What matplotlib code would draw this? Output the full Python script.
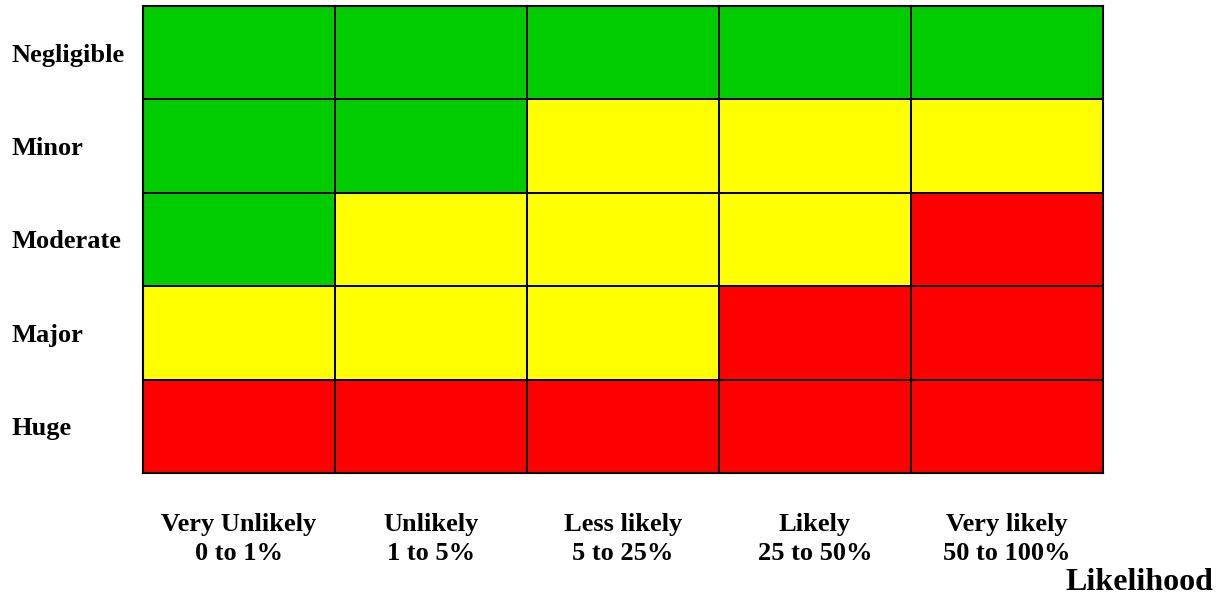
import matplotlib.pyplot as plt
from matplotlib.colors import ListedColormap
import numpy as np

# impact rows (top to bottom) and likelihood columns
impact = ['Negligible', 'Minor', 'Moderate', 'Major', 'Huge']
likelihood = ['Very Unlikely\n0 to 1%', 'Unlikely\n1 to 5%', 'Less likely\n5 to 25%',
              'Likely\n25 to 50%', 'Very likely\n50 to 100%']

# risk level per cell: 0 = low (green), 1 = medium (yellow), 2 = high (red)
risk = [
    [0, 0, 0, 0, 0],
    [0, 0, 1, 1, 1],
    [0, 1, 1, 1, 2],
    [1, 1, 1, 2, 2],
    [2, 2, 2, 2, 2],
]

plt.rcParams['font.family'] = ['Liberation Serif', 'DejaVu Serif']
plt.rcParams['font.weight'] = 'bold'

fig = plt.figure(figsize=(12.21, 6.01), dpi=100)
ax = fig.add_axes([143 / 1221, 1 - 473 / 601, 960 / 1221, 467 / 601])

cmap = ListedColormap(['#00CC00', '#FFFF00', '#FF0000'])
ax.pcolormesh(np.array(risk), cmap=cmap, vmin=-0.5, vmax=2.5,
              edgecolors='black', linewidth=1.3)
ax.set_xlim(0, len(likelihood))
ax.set_ylim(len(impact), 0)

for s in ax.spines.values():
    s.set_linewidth(1.5)

ax.set_yticks(np.arange(len(impact)) + 0.5)
ax.set_yticklabels(impact, fontsize=19, fontweight='bold', ha='left')
ax.tick_params(axis='y', length=0, pad=95)

ax.set_xticks(np.arange(len(likelihood)) + 0.5)
ax.set_xticklabels(likelihood, fontsize=19, fontweight='bold', linespacing=1.38)
ax.tick_params(axis='x', length=0, pad=28.5)

fig.text(1213 / 1221, 1 - 583 / 601, 'Likelihood', fontsize=23, fontweight='bold',
         ha='right', va='center')

fig.savefig('out.png', dpi=100)
